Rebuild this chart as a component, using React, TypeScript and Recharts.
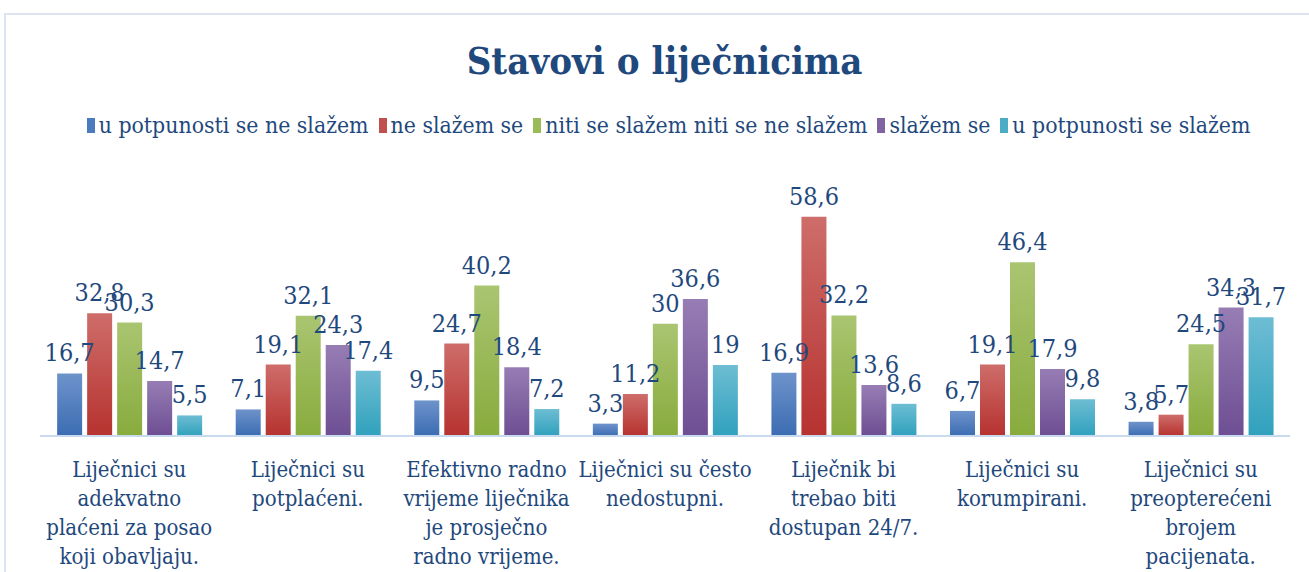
import React from 'react';
import { BarChart, Bar, XAxis, YAxis, LabelList } from 'recharts';

const categories = [
  'Liječnici su\nadekvatno\nplaćeni za posao\nkoji obavljaju.',
  'Liječnici su\npotplaćeni.',
  'Efektivno radno\nvrijeme liječnika\nje prosječno\nradno vrijeme.',
  'Liječnici su često\nnedostupni.',
  'Liječnik bi\ntrebao biti\ndostupan 24/7.',
  'Liječnici su\nkorumpirani.',
  'Liječnici su\npreopterećeni\nbrojem\npacijenata.',
];

const seriesNames = [
  'u potpunosti se ne slažem',
  'ne slažem se',
  'niti se slažem niti se ne slažem',
  'slažem se',
  'u potpunosti se slažem',
];

const potpunoNeSlazem = [16.7, 7.1, 9.5, 3.3, 16.9, 6.7, 3.8];
const neSlazem = [32.8, 19.1, 24.7, 11.2, 58.6, 19.1, 5.7];
const nitiNiti = [30.3, 32.1, 40.2, 30, 32.2, 46.4, 24.5];
const slazem = [14.7, 24.3, 18.4, 36.6, 13.6, 17.9, 34.3];
const potpunoSlazem = [5.5, 17.4, 7.2, 19, 8.6, 9.8, 31.7];

const seriesValues = [potpunoNeSlazem, neSlazem, nitiNiti, slazem, potpunoSlazem];

// gradient stops: top (light) -> bottom (dark)
const colors = [
  { id: 'g0', top: '#6E93CB', bottom: '#3B6CB2', legend: '#4A7BBE' },
  { id: 'g1', top: '#CE6D6A', bottom: '#B6322F', legend: '#C0504D' },
  { id: 'g2', top: '#AAC571', bottom: '#88AB3D', legend: '#9BBB59' },
  { id: 'g3', top: '#977DB4', bottom: '#6D4E93', legend: '#8064A2' },
  { id: 'g4', top: '#6DBDD3', bottom: '#30A1BD', legend: '#4BACC6' },
];

const data = categories.map((name, i) => {
  const row: any = { name };
  seriesValues.forEach((arr, s) => {
    row['s' + s] = arr[i];
  });
  return row;
});

const FONT = '"DejaVu Serif Condensed", "DejaVu Serif", serif';
const TEXT = '#1F497D';

const fmt = (v: any) => String(v).replace('.', ',');

const CategoryTick = ({ x, y, payload }: any) => {
  const lines = String(payload.value).split('\n');
  return (
    <text x={x} y={y + 39} textAnchor="middle" fill={TEXT} fontFamily={FONT} fontSize={22}>
      {lines.map((l, i) => (
        <tspan key={i} x={x} dy={i === 0 ? 0 : 29}>
          {l}
        </tspan>
      ))}
    </text>
  );
};

export default function App() {
  return (
    <div
      style={{
        position: 'fixed',
        left: 0,
        top: 0,
        width: 1309,
        height: 572,
        background: '#fff',
        overflow: 'hidden',
      }}
    >
      <div
        style={{
          position: 'absolute',
          left: 4,
          top: 13,
          width: 1400,
          height: 700,
          border: '2px solid #DCE4F0',
          boxSizing: 'border-box',
        }}
      />
      <BarChart
        width={1309}
        height={572}
        data={data}
        margin={{ top: 174, right: 19, bottom: 0, left: 40 }}
        barCategoryGap="9.6%"
        barGap={5}
        style={{ position: 'absolute', left: 0, top: 0 }}
      >
        <defs>
          {colors.map((c) => (
            <linearGradient key={c.id} id={c.id} x1="0" y1="0" x2="0" y2="1">
              <stop offset="0%" stopColor={c.top} />
              <stop offset="100%" stopColor={c.bottom} />
            </linearGradient>
          ))}
        </defs>
        <XAxis
          dataKey="name"
          height={136}
          interval={0}
          tickLine={false}
          tickSize={0}
          tick={<CategoryTick />}
          axisLine={{ stroke: '#C9D9EE', strokeWidth: 2 }}
        />
        <YAxis hide domain={[0, 70]} ticks={[0, 70]} allowDataOverflow />
        {seriesNames.map((n, s) => (
          <Bar key={n} dataKey={'s' + s} name={n} fill={`url(#${colors[s].id})`} isAnimationActive={false}>
            <LabelList
              dataKey={'s' + s}
              position="top"
              offset={12}
              formatter={fmt}
              fill={TEXT}
              fontFamily={FONT}
              fontSize={25}
            />
          </Bar>
        ))}
      </BarChart>
      <div
        style={{
          position: 'absolute',
          left: 10,
          top: 38,
          width: 1309,
          textAlign: 'center',
          fontFamily: FONT,
          fontWeight: 'bold',
          fontSize: 38,
          color: TEXT,
        }}
      >
        Stavovi o liječnicima
      </div>
      <div
        style={{
          position: 'absolute',
          left: 14,
          top: 112,
          width: 1309,
          display: 'flex',
          justifyContent: 'center',
          alignItems: 'center',
          fontFamily: FONT,
          fontSize: 22.8,
          color: TEXT,
          whiteSpace: 'nowrap',
        }}
      >
        {seriesNames.map((n, i) => (
          <span
            key={n}
            style={{ display: 'flex', alignItems: 'center', marginRight: i < seriesNames.length - 1 ? 10 : 0 }}
          >
            <span
              style={{
                display: 'inline-block',
                width: 8,
                height: 15,
                background: colors[i].legend,
                marginRight: 4,
              }}
            />
            {n}
          </span>
        ))}
      </div>
    </div>
  );
}
